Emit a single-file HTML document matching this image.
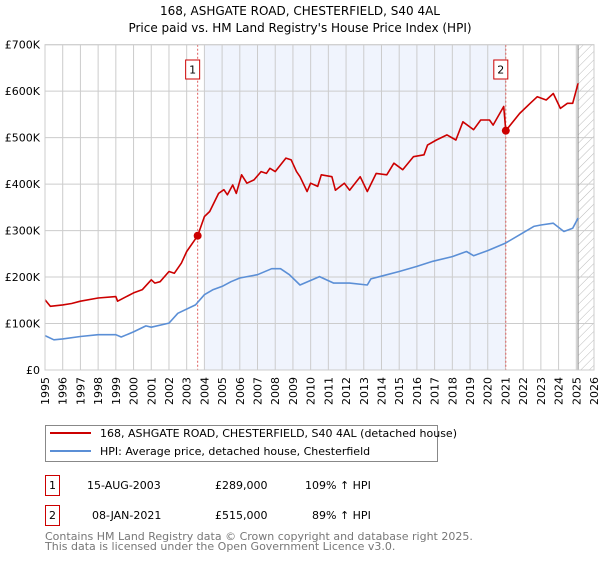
<!DOCTYPE html>
<html><head><meta charset="utf-8"><style>
body{margin:0;background:#fff;}
svg text{font-family:"DejaVu Sans","Liberation Sans",sans-serif;}
</style></head><body>
<svg width="600" height="560" viewBox="0 0 600 560" xmlns="http://www.w3.org/2000/svg">
<defs><pattern id="hatch" width="6" height="6" patternUnits="userSpaceOnUse" patternTransform="rotate(45)"><line x1="0" y1="0" x2="0" y2="6" stroke="#bbb" stroke-width="1"/></pattern></defs>
<text x="300" y="15" text-anchor="middle" font-size="12">168, ASHGATE ROAD, CHESTERFIELD, S40 4AL</text>
<text x="300" y="32" text-anchor="middle" font-size="12">Price paid vs. HM Land Registry's House Price Index (HPI)</text>
<g id="plot"></g>
<g>
<rect x="45.5" y="425.5" width="392" height="36" fill="#fff" stroke="#888"/>
<line x1="50" y1="433" x2="91" y2="433" stroke="#cc0000" stroke-width="2"/>
<text x="100" y="437" font-size="11">168, ASHGATE ROAD, CHESTERFIELD, S40 4AL (detached house)</text>
<line x1="50" y1="451" x2="91" y2="451" stroke="#5b8fd6" stroke-width="2"/>
<text x="100" y="455" font-size="11">HPI: Average price, detached house, Chesterfield</text>
</g>
<g font-size="11">
<rect x="45.5" y="475.5" width="14" height="20" fill="#fff" stroke="#cc0000"/>
<text x="52.5" y="489" text-anchor="middle">1</text>
<text x="87" y="489">15-AUG-2003</text>
<text x="215" y="489">£289,000</text>
<text x="305" y="489">109% ↑ HPI</text>
<rect x="45.5" y="505.5" width="14" height="20" fill="#fff" stroke="#cc0000"/>
<text x="52.5" y="519" text-anchor="middle">2</text>
<text x="92" y="519">08-JAN-2021</text>
<text x="215" y="519">£515,000</text>
<text x="312" y="519">89% ↑ HPI</text>
</g>
<text x="45" y="540" font-size="11" fill="#777">Contains HM Land Registry data © Crown copyright and database right 2025.</text>
<text x="45" y="550" font-size="11" fill="#777">This data is licensed under the Open Government Licence v3.0.</text>
</svg>
<script>
const yearTicks=[1995,1996,1997,1998,1999,2000,2001,2002,2003,2004,2005,2006,2007,2008,2009,2010,2011,2012,2013,2014,2015,2016,2017,2018,2019,2020,2021,2022,2023,2024,2025,2026];
const valueTicks=[0,100000,200000,300000,400000,500000,600000,700000];
const valueTickLabels=["£0","£100K","£200K","£300K","£400K","£500K","£600K","£700K"];
const hpiYears=[1995,1995.5,1996,1997,1998,1999,1999.3,2000,2000.7,2001,2002,2002.5,2003.5,2004,2004.5,2005,2005.5,2006,2007,2007.8,2008.3,2008.8,2009.4,2010.5,2011.3,2012.2,2013.2,2013.4,2015,2016,2016.9,2018,2018.8,2019.2,2020,2021,2021.8,2022.6,2023,2023.7,2024.3,2024.8,2025.1];
const hpiValues=[74000,65000,67000,72000,76000,76000,71000,82000,95000,92000,101000,122000,140000,162000,173000,180000,190000,198000,205000,218000,218000,205000,183000,201000,187000,187000,183000,196000,212000,223000,234000,244000,255000,246000,257000,273000,291000,309000,312000,316000,298000,305000,327000];
const priceYears=[1995,1995.3,1996,1996.5,1997,1998,1999,1999.1,2000,2000.5,2001,2001.2,2001.5,2002,2002.3,2002.7,2003,2003.62,2004,2004.3,2004.8,2005.1,2005.3,2005.6,2005.8,2006.1,2006.4,2006.8,2007.2,2007.5,2007.7,2008,2008.6,2008.9,2009.2,2009.4,2009.8,2010,2010.4,2010.6,2011.2,2011.4,2011.9,2012.2,2012.8,2013.2,2013.7,2014.3,2014.7,2015.2,2015.8,2016.4,2016.6,2017.1,2017.7,2018.2,2018.6,2019.2,2019.6,2020.1,2020.3,2020.9,2021.02,2021.8,2022.4,2022.8,2023.3,2023.7,2024.1,2024.5,2024.8,2025.1];
const priceValues=[151000,137000,140000,143000,148000,155000,158000,148000,166000,173000,194000,187000,190000,212000,208000,230000,255000,289000,330000,341000,380000,388000,377000,398000,380000,420000,402000,409000,427000,423000,434000,427000,456000,452000,427000,416000,384000,402000,395000,420000,416000,387000,402000,387000,416000,384000,423000,420000,445000,431000,459000,463000,484000,495000,506000,495000,534000,517000,538000,538000,527000,567000,515000,552000,574000,588000,581000,595000,563000,574000,574000,617000];
const saleYears=[2003.62,2021.02];
const saleValues=[289000,515000];
const saleLabels=["1","2"];

const X0=45,X1=594,Y0=370,Y1=44.7;
const xs=y=>X0+(y-1995)/(2026-1995)*(X1-X0);
const ys=v=>Y0-v/700000*(Y0-Y1);
const NS="http://www.w3.org/2000/svg";
const g=document.getElementById('plot');
function mk(t,a,p){const e=document.createElementNS(NS,t);for(const k in a)e.setAttribute(k,a[k]);(p||g).appendChild(e);return e;}

mk('rect',{x:X0,y:Y1,width:X1-X0,height:Y0-Y1,fill:'#fff'});
const shade=mk('rect',{x:xs(2004),y:Y1,width:xs(2021.02)-xs(2004),height:Y0-Y1,fill:'#f0f4fd'});


const hatch=mk('rect',{x:xs(2025.1),y:Y1,width:X1-xs(2025.1),height:Y0-Y1,fill:'url(#hatch)'});



yearTicks.forEach(yr=>{
  const x=xs(yr);
  const l=mk('line',{x1:x,y1:Y1,x2:x,y2:Y0,stroke:'#ccc','stroke-width':1});
  
  
  const t=mk('text',{x:0,y:0,'font-size':11,'text-anchor':'end',transform:`translate(${x+4},${Y0+7}) rotate(-90)`});
  t.textContent=yr;
  
  
});
valueTicks.forEach((v,i)=>{
  const y=ys(v);
  const l=mk('line',{x1:X0,y1:y,x2:X1,y2:y,stroke:'#ccc','stroke-width':1});
  
  
  const t=mk('text',{x:40,y:y+4,'font-size':11,'text-anchor':'end'});
  t.textContent=valueTickLabels[i];
  
  
});
const nowLine=mk('line',{x1:xs(2025.1),y1:Y1,x2:xs(2025.1),y2:Y0,stroke:'#888','stroke-width':1});



saleYears.forEach((yr,i)=>{
  const x=xs(yr);
  const l=mk('line',{x1:x,y1:Y1,x2:x,y2:Y0,stroke:'#e06060','stroke-width':1,'stroke-dasharray':'2,2'});
  
  
  const b=mk('rect',{x:x-12,y:60,width:14,height:19,fill:'#fff',stroke:'#cc0000'});
  
  
  const t=mk('text',{x:x-5,y:73.5,'font-size':11,'text-anchor':'middle'});
  t.textContent=saleLabels[i];
  
  
});

function line(xv,yv,color,name){
  const d=xv.map((x,i)=>(i?'L':'M')+xs(x).toFixed(1)+','+ys(yv[i]).toFixed(1)).join('');
  const p=mk('path',{d:d,fill:'none',stroke:color,'stroke-width':1.6,'stroke-linejoin':'round'});
  
  
}
line(hpiYears,hpiValues,'#5b8fd6','hpi-line');
line(priceYears,priceValues,'#cc0000','property-price-line');
saleYears.forEach((yr,i)=>{
  const c=mk('circle',{cx:xs(yr),cy:ys(saleValues[i]),r:4,fill:'#cc0000'});
  
  
});
mk('rect',{x:X0,y:Y1,width:X1-X0,height:Y0-Y1,fill:'none',stroke:'#ccc'});
</script>
</body></html>
